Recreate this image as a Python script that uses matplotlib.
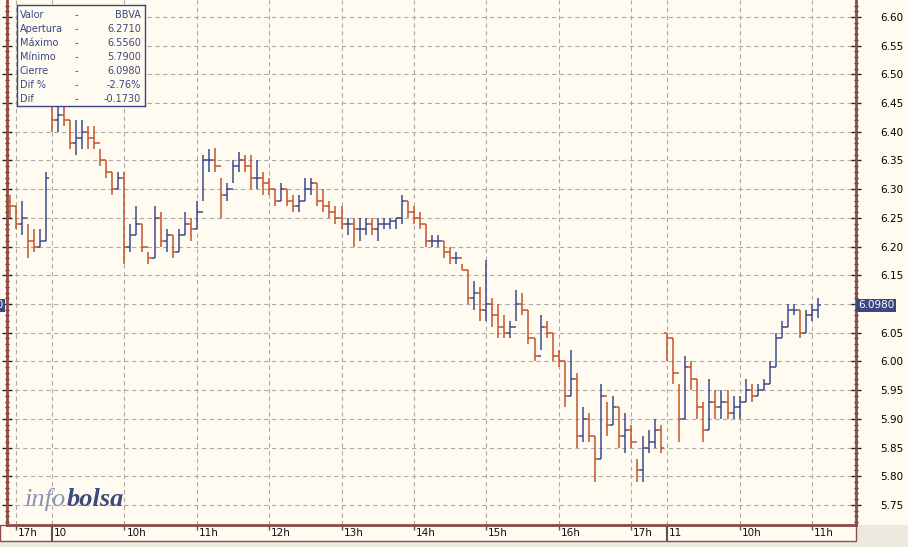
"""BBVA intraday chart (infobolsa style): 5-min OHLC bars over three sessions."""
import numpy as np
import matplotlib
matplotlib.use("Agg")
import matplotlib.pyplot as plt
from matplotlib.patches import Rectangle
from matplotlib.ticker import MultipleLocator, FuncFormatter

# bars per session: last 7 bars of day 0, full day 1, morning of day 2
SESSION_BARS = [7, 102, 26]

CLOSE = [
    # day 0 (16:55 - 17:25)
    6.27, 6.24, 6.25, 6.21, 6.20, 6.21, 6.32,
    # day 1
    6.42, 6.43, 6.42, 6.38, 6.39, 6.40, 6.39, 6.38, 6.35, 6.33,
    6.30, 6.32, 6.20, 6.22, 6.24, 6.20, 6.18, 6.25, 6.21, 6.22,
    6.19, 6.22, 6.24, 6.23, 6.26, 6.35, 6.35, 6.34, 6.29, 6.30,
    6.34, 6.35, 6.34, 6.32, 6.32, 6.31, 6.30, 6.28, 6.30, 6.28,
    6.27, 6.28, 6.30, 6.31, 6.28, 6.27, 6.26, 6.25, 6.24, 6.24,
    6.23, 6.23, 6.24, 6.23, 6.24, 6.24, 6.245, 6.25, 6.28, 6.26,
    6.25, 6.24, 6.21, 6.21, 6.21, 6.19, 6.18, 6.18, 6.16, 6.11,
    6.12, 6.09, 6.10, 6.08, 6.06, 6.05, 6.06, 6.10, 6.09, 6.04,
    6.01, 6.06, 6.05, 6.01, 6.00, 5.94, 5.97, 5.87, 5.90, 5.87,
    5.83, 5.94, 5.89, 5.92, 5.87, 5.88, 5.86, 5.81, 5.85, 5.86,
    5.88, 5.85,
    # day 2
    6.04, 5.98, 5.90, 5.99, 5.97, 5.92, 5.88, 5.93, 5.92, 5.93,
    5.91, 5.92, 5.93, 5.95, 5.94, 5.95, 5.96, 5.99, 6.04, 6.06,
    6.09, 6.09, 6.05, 6.08, 6.09, 6.098,
]
HIGH = [
    6.29, 6.27, 6.28, 6.24, 6.23, 6.23, 6.33,
    6.46, 6.45, 6.45, 6.42, 6.42, 6.42, 6.41, 6.41, 6.37, 6.35,
    6.33, 6.33, 6.33, 6.24, 6.27, 6.24, 6.19, 6.27, 6.26, 6.23,
    6.22, 6.23, 6.26, 6.25, 6.28, 6.36, 6.37, 6.372, 6.32, 6.31,
    6.35, 6.365, 6.36, 6.36, 6.35, 6.33, 6.32, 6.30, 6.31, 6.30,
    6.29, 6.29, 6.32, 6.32, 6.31, 6.30, 6.28, 6.27, 6.27, 6.25,
    6.25, 6.25, 6.25, 6.25, 6.25, 6.25, 6.25, 6.25, 6.29, 6.28,
    6.27, 6.26, 6.24, 6.22, 6.22, 6.21, 6.20, 6.19, 6.17, 6.16,
    6.14, 6.13, 6.177, 6.11, 6.10, 6.08, 6.07, 6.125, 6.12, 6.09,
    6.04, 6.08, 6.07, 6.05, 6.02, 6.00, 6.02, 5.98, 5.92, 5.91,
    5.87, 5.96, 5.93, 5.94, 5.92, 5.91, 5.89, 5.83, 5.87, 5.88,
    5.90, 5.89,
    6.05, 6.04, 5.96, 6.01, 6.00, 5.97, 5.93, 5.97, 5.95, 5.95,
    5.95, 5.94, 5.94, 5.97, 5.96, 5.96, 5.97, 6.00, 6.05, 6.07,
    6.10, 6.10, 6.09, 6.09, 6.10, 6.11,
]
LOW = [
    6.25, 6.23, 6.22, 6.18, 6.19, 6.20, 6.21,
    6.40, 6.40, 6.41, 6.37, 6.36, 6.37, 6.37, 6.37, 6.34, 6.32,
    6.29, 6.30, 6.17, 6.19, 6.22, 6.19, 6.17, 6.18, 6.20, 6.19,
    6.18, 6.19, 6.22, 6.21, 6.23, 6.28, 6.33, 6.33, 6.25, 6.28,
    6.31, 6.33, 6.33, 6.30, 6.30, 6.29, 6.29, 6.27, 6.28, 6.27,
    6.26, 6.26, 6.28, 6.29, 6.27, 6.26, 6.25, 6.24, 6.23, 6.22,
    6.20, 6.21, 6.22, 6.22, 6.21, 6.23, 6.23, 6.23, 6.24, 6.25,
    6.24, 6.23, 6.20, 6.20, 6.20, 6.18, 6.17, 6.17, 6.16, 6.10,
    6.09, 6.07, 6.07, 6.06, 6.04, 6.04, 6.04, 6.07, 6.08, 6.03,
    6.00, 6.02, 6.04, 6.00, 5.99, 5.92, 5.94, 5.85, 5.86, 5.86,
    5.79, 5.83, 5.87, 5.89, 5.85, 5.84, 5.85, 5.79, 5.79, 5.84,
    5.85, 5.84,
    6.00, 5.96, 5.86, 5.90, 5.95, 5.90, 5.86, 5.88, 5.90, 5.90,
    5.90, 5.90, 5.90, 5.93, 5.93, 5.94, 5.95, 5.96, 5.99, 6.04,
    6.06, 6.08, 6.04, 6.05, 6.07, 6.075,
]
FIRST_OPEN = [6.28, 6.45, 6.05]

# x-axis labels: (bar index, label, day separator?)
XTICKS = [(1, "17h", False), (7, "10", True), (19, "10h", False), (31, "11h", False),
          (43, "12h", False), (55, "13h", False), (67, "14h", False), (79, "15h", False),
          (91, "16h", False), (103, "17h", False), (109, "11", True), (121, "10h", False),
          (133, "11h", False)]

INFO_LABELS = ["Valor", "Apertura", "Máximo", "Mínimo", "Cierre", "Dif %", "Dif"]
INFO_VALUES = ["BBVA", "6.2710", "6.5560", "5.7900", "6.0980", "-2.76%", "-0.1730"]
LAST_PRICE = 6.0980

CREAM = "#FFFBF0"
GREY = "#ECE9DE"
MAROON = "#8E4A45"
NAVY = "#3A4784"
UP = "#3D4A8E"
DOWN = "#C4532B"
W, H = 908, 547

plt.rcParams["font.family"] = ["DejaVu Sans"]
fig = plt.figure(figsize=(W / 100, H / 100), dpi=100, facecolor=CREAM)

# grey page area at the bottom and bottom-right corner, time-label strip
fig.add_artist(Rectangle((0, 0), 1, 6 / H, transform=fig.transFigure,
                         facecolor=GREY, edgecolor="none", zorder=-2))
fig.add_artist(Rectangle((856 / W, 0), 1, 22 / H, transform=fig.transFigure,
                         facecolor=GREY, edgecolor="none", zorder=-2))
fig.add_artist(Rectangle((0, 6 / H), 856 / W, 16 / H, transform=fig.transFigure,
                         facecolor=CREAM, edgecolor=MAROON, lw=1, zorder=-1))

ax = fig.add_axes([7 / W, 22 / H, 849 / W, 525 / H], facecolor=CREAM)

close = np.array(CLOSE)
high = np.array(HIGH)
low = np.array(LOW)
opens = np.r_[np.nan, close[:-1]]
start = 0
for n, o in zip(SESSION_BARS, FIRST_OPEN):
    opens[start] = o
    start += n
x = np.arange(len(close))
col = np.where(close >= opens, UP, DOWN)

ax.vlines(x, low, high, colors=col, lw=1.1, zorder=3)
ax.hlines(opens, x - 0.5, x, colors=col, lw=1.1, zorder=3)
ax.hlines(close, x, x + 0.5, colors=col, lw=1.1, zorder=3)

ax.set_xlim(-0.46, 140.3)
ax.set_ylim(5.715, 6.6296)

# y axis on the right; the 6.10 label sits under the last-price tag
ax.yaxis.set_major_locator(MultipleLocator(0.05))
ax.yaxis.set_minor_locator(MultipleLocator(0.01))
ax.yaxis.set_major_formatter(FuncFormatter(
    lambda v, _: "" if abs(v - 6.10) < 1e-6 else f"{v:.2f}"))
ax.tick_params(axis="y", which="both", left=True, right=True,
               labelleft=False, labelright=True, direction="inout", color="#222222")
ax.tick_params(axis="y", which="major", length=6.5, width=1, pad=14, labelsize=7.5)
ax.tick_params(axis="y", which="minor", length=3.5, width=1)

# x ticks
ax.set_xticks([t[0] for t in XTICKS])
ax.set_xticklabels([])
ax.tick_params(axis="x", direction="out", length=3.6, width=1, color="#555555")
for tk, (_, _, sep) in zip(ax.xaxis.get_major_ticks(), XTICKS):
    if sep:
        tk.tick1line.set_markersize(11.5)
        tk.tick1line.set_color("black")
        tk.tick1line.set_markeredgewidth(1.5)
for pos, lab, _ in XTICKS:
    ax.annotate(lab, (pos, 0), xycoords=("data", "axes fraction"),
                xytext=(2, -3), textcoords="offset pixels",
                ha="left", va="top", fontsize=7.5, color="#111111",
                annotation_clip=False)

ax.grid(True, which="major", color="#ABABAB", ls=(0, (4, 3)), lw=0.8, zorder=0)

for side in ("left", "right", "bottom"):
    ax.spines[side].set_color(MAROON)
    ax.spines[side].set_linewidth(2)
ax.spines["top"].set_visible(False)

# last price tag on both axes (the left one is cut by the frame edge)
for xa, ha, dx in ((1.0, "left", 2), (0.0, "right", -4)):
    ax.annotate(f"{LAST_PRICE:.4f}", (xa, LAST_PRICE), xycoords=("axes fraction", "data"),
                xytext=(dx, 0), textcoords="offset pixels", ha=ha, va="center",
                fontsize=7.5, color="white", annotation_clip=False, zorder=6,
                bbox=dict(boxstyle="square,pad=0.15", facecolor=NAVY, edgecolor="none"))

# info box
box = fig.add_axes([17 / W, 1 - 106 / H, 128 / W, 101 / H], facecolor=CREAM, zorder=5)
box.set_xticks([]); box.set_yticks([])
for s in box.spines.values():
    s.set_color(NAVY); s.set_linewidth(1)
for i, (lab, val) in enumerate(zip(INFO_LABELS, INFO_VALUES)):
    yy = 1 - (10 + 14 * i) / 101
    box.text(3 / 128, yy, lab, fontsize=7, color=NAVY, va="center", ha="left")
    box.text(58 / 128, yy, "-", fontsize=7, color=NAVY, va="center", ha="left")
    box.text(124 / 128, yy, val, fontsize=7, color=NAVY, va="center", ha="right")

# logo
t1 = fig.text(25 / W, 1 - 506 / H, "info", fontsize=19, family="Liberation Serif",
              style="italic", color="#8D95B5", va="baseline")
ax.annotate("bolsa", xy=(1, 0), xycoords=t1, xytext=(0, 0), textcoords="offset pixels",
            fontsize=19, family="Liberation Serif", style="italic", weight="bold",
            color="#3C4A7E", va="bottom", ha="left", annotation_clip=False)

fig.savefig("out.png", dpi=100, facecolor=fig.get_facecolor())
